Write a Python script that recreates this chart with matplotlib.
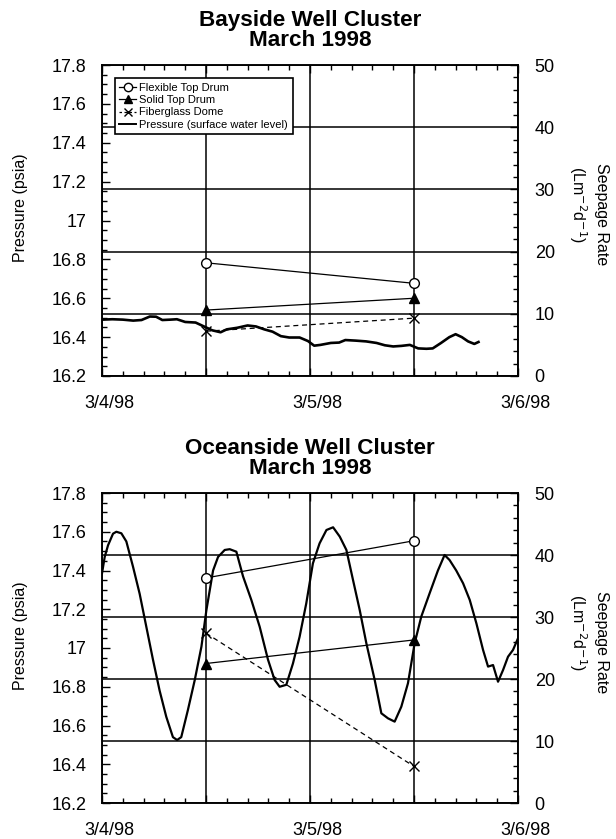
import numpy as np
import matplotlib
matplotlib.use("Agg")
import matplotlib.pyplot as plt
from matplotlib.lines import Line2D
from matplotlib.ticker import MultipleLocator, FixedLocator
import matplotlib.transforms as mtransforms

plt.rcParams['font.family'] = ['Liberation Sans', 'DejaVu Sans']

# --- data (days after 3/4/98 00:00) ---
date_labels = ['3/4/98', '3/5/98', '3/6/98']
sample_days = [0.5, 1.5]

bay_days = [0.00, 0.05, 0.10, 0.15, 0.19, 0.23, 0.26, 0.29, 0.33, 0.36, 0.40, 0.45,
            0.49, 0.53, 0.57, 0.60, 0.65, 0.70, 0.74, 0.78, 0.82, 0.86, 0.90, 0.95,
            0.99, 1.02, 1.05, 1.10, 1.14, 1.17, 1.22, 1.27, 1.32, 1.36, 1.40, 1.44,
            1.48, 1.52, 1.56, 1.59, 1.63, 1.67, 1.70, 1.73, 1.76, 1.79, 1.81]
bay_pressure = [16.490, 16.492, 16.490, 16.485, 16.488, 16.506, 16.505, 16.488, 16.490,
                16.492, 16.478, 16.475, 16.455, 16.435, 16.425, 16.440, 16.448, 16.460,
                16.455, 16.440, 16.428, 16.405, 16.398, 16.398, 16.380, 16.356, 16.360,
                16.370, 16.372, 16.385, 16.382, 16.378, 16.370, 16.358, 16.352, 16.355,
                16.360, 16.342, 16.340, 16.342, 16.370, 16.400, 16.415, 16.400, 16.378,
                16.365, 16.375]
bay_flexible = [18.2, 14.9]
bay_solid = [10.6, 12.5]
bay_fiberglass = [7.2, 9.3]

ocean_days = [0.000, 0.013, 0.029, 0.053, 0.069, 0.093, 0.117, 0.149, 0.181, 0.213,
              0.245, 0.277, 0.309, 0.341, 0.361, 0.381, 0.413, 0.446, 0.478, 0.502,
              0.534, 0.558, 0.590, 0.614, 0.646, 0.678, 0.718, 0.758, 0.798, 0.830,
              0.854, 0.886, 0.918, 0.950, 0.982, 1.014, 1.046, 1.079, 1.111, 1.143,
              1.175, 1.207, 1.239, 1.271, 1.311, 1.343, 1.375, 1.407, 1.439, 1.471,
              1.503, 1.535, 1.575, 1.615, 1.647, 1.671, 1.703, 1.736, 1.768, 1.800,
              1.832, 1.856, 1.880, 1.904, 1.928, 1.952, 1.976, 2.000]
ocean_pressure = [17.385, 17.47, 17.53, 17.59, 17.60, 17.592, 17.55, 17.42, 17.28, 17.11,
                  16.94, 16.78, 16.645, 16.54, 16.525, 16.54, 16.68, 16.835, 17.007, 17.196,
                  17.40, 17.47, 17.506, 17.51, 17.497, 17.37, 17.248, 17.11, 16.94, 16.835,
                  16.80, 16.81, 16.92, 17.058, 17.23, 17.437, 17.54, 17.609, 17.623, 17.575,
                  17.506, 17.35, 17.196, 17.024, 16.835, 16.663, 16.637, 16.62, 16.697, 16.818,
                  17.024, 17.162, 17.282, 17.40, 17.48, 17.454, 17.40, 17.334, 17.248, 17.127,
                  16.99, 16.904, 16.912, 16.826, 16.886, 16.955, 16.99, 17.05]
ocean_flexible = [36.3, 42.3]
ocean_solid = [22.5, 26.3]
ocean_fiberglass = [27.4, 5.9]


def draw_panel(fig, rect, title, days, pressure, flexible, solid, fiberglass,
               line_width=1.9, legend=False):
    ax = fig.add_axes(rect)
    ax2 = ax.twinx()

    ax.plot(days, pressure, color='black', lw=line_width, zorder=3)
    ax.set_xlim(0, 2)
    ax.set_ylim(16.2, 17.8)
    yt = np.arange(16.2, 17.81, 0.2).round(1)
    ax.yaxis.set_major_locator(FixedLocator(yt))
    ax.yaxis.set_minor_locator(MultipleLocator(0.05))
    ax.set_yticklabels([f'{v:g}' for v in yt])

    ax.xaxis.set_major_locator(FixedLocator([0, 0.5, 1, 1.5, 2]))
    ax.xaxis.set_minor_locator(MultipleLocator(0.1))
    ax.set_xticklabels([date_labels[0], '', date_labels[1], '', date_labels[2]])
    ax.grid(axis='x', which='major', color='black', lw=1.1)

    ax.tick_params(axis='both', which='both', direction='in', labelsize=13)
    ax.tick_params(axis='x', which='both', top=True, pad=14)
    ax.tick_params(axis='y', which='both', right=False, pad=11)
    ax.tick_params(which='major', length=6, width=1)
    ax.tick_params(which='minor', length=3.5, width=1)
    offset = mtransforms.ScaledTranslation(0.07, 0, fig.dpi_scale_trans)
    for lab in ax.get_xticklabels():
        lab.set_transform(lab.get_transform() + offset)

    ax2.plot(sample_days, flexible, color='black', lw=0.9, marker='o', ms=7,
             mfc='white', mec='black', mew=1.0, zorder=4)
    ax2.plot(sample_days, solid, color='black', lw=0.9, marker='^', ms=7, zorder=4)
    ax2.plot(sample_days, fiberglass, color='black', lw=0.9, ls=(0, (4, 3)), marker='x',
             ms=7, mew=1.0, zorder=4)
    ax2.set_ylim(0, 50)
    ax2.yaxis.set_major_locator(MultipleLocator(10))
    ax2.yaxis.set_minor_locator(MultipleLocator(2))
    ax2.grid(axis='y', which='major', color='black', lw=1.1)
    ax2.tick_params(axis='y', which='both', direction='in', labelsize=13, pad=12)
    ax2.tick_params(which='major', length=6, width=1)
    ax2.tick_params(which='minor', length=3.5, width=1)

    for a in (ax, ax2):
        for s in a.spines.values():
            s.set_linewidth(1.1)

    ax.set_title(title, fontsize=16.2, fontweight='bold', pad=14, linespacing=0.93)
    ax.text(-0.195, 0.54, 'Pressure (psia)', transform=ax.transAxes, rotation=90,
            ha='center', va='center', fontsize=11.5)
    ax.text(1.2, 0.52, 'Seepage Rate', transform=ax.transAxes, rotation=-90,
            ha='center', va='center', fontsize=11.5)
    ax.text(1.143, 0.55, '(Lm$^{-2}$d$^{-1}$)', transform=ax.transAxes, rotation=-90,
            ha='center', va='center', fontsize=11.5)

    if legend:
        handles = [
            Line2D([], [], color='black', lw=0.9, marker='o', ms=6, mfc='white'),
            Line2D([], [], color='black', lw=0.9, marker='^', ms=6),
            Line2D([], [], color='black', lw=0.9, ls=(0, (2, 2)), marker='x', ms=6),
            Line2D([], [], color='black', lw=1.4),
        ]
        labels = ['Flexible Top Drum', 'Solid Top Drum', 'Fiberglass Dome',
                  'Pressure (surface water level)']
        leg = ax2.legend(handles, labels, loc='upper left', bbox_to_anchor=(0.031, 0.958),
                         borderaxespad=0, fontsize=8, handlelength=1.5, handletextpad=0.3,
                         labelspacing=0.22, borderpad=0.4, fancybox=False, framealpha=1,
                         edgecolor='black')
        leg.get_frame().set_linewidth(1.2)
        leg.set_zorder(10)
    return ax, ax2


fig = plt.figure(figsize=(6.16, 8.39), dpi=100)
draw_panel(fig, [102 / 616, 1 - 376 / 839, 416 / 616, 311 / 839],
           'Bayside Well Cluster\nMarch 1998', bay_days, bay_pressure,
           bay_flexible, bay_solid, bay_fiberglass, line_width=1.9, legend=True)
draw_panel(fig, [102 / 616, 1 - 803 / 839, 416 / 616, 310 / 839],
           'Oceanside Well Cluster\nMarch 1998', ocean_days, ocean_pressure,
           ocean_flexible, ocean_solid, ocean_fiberglass, line_width=1.6)

fig.savefig('out.png', dpi=100)
